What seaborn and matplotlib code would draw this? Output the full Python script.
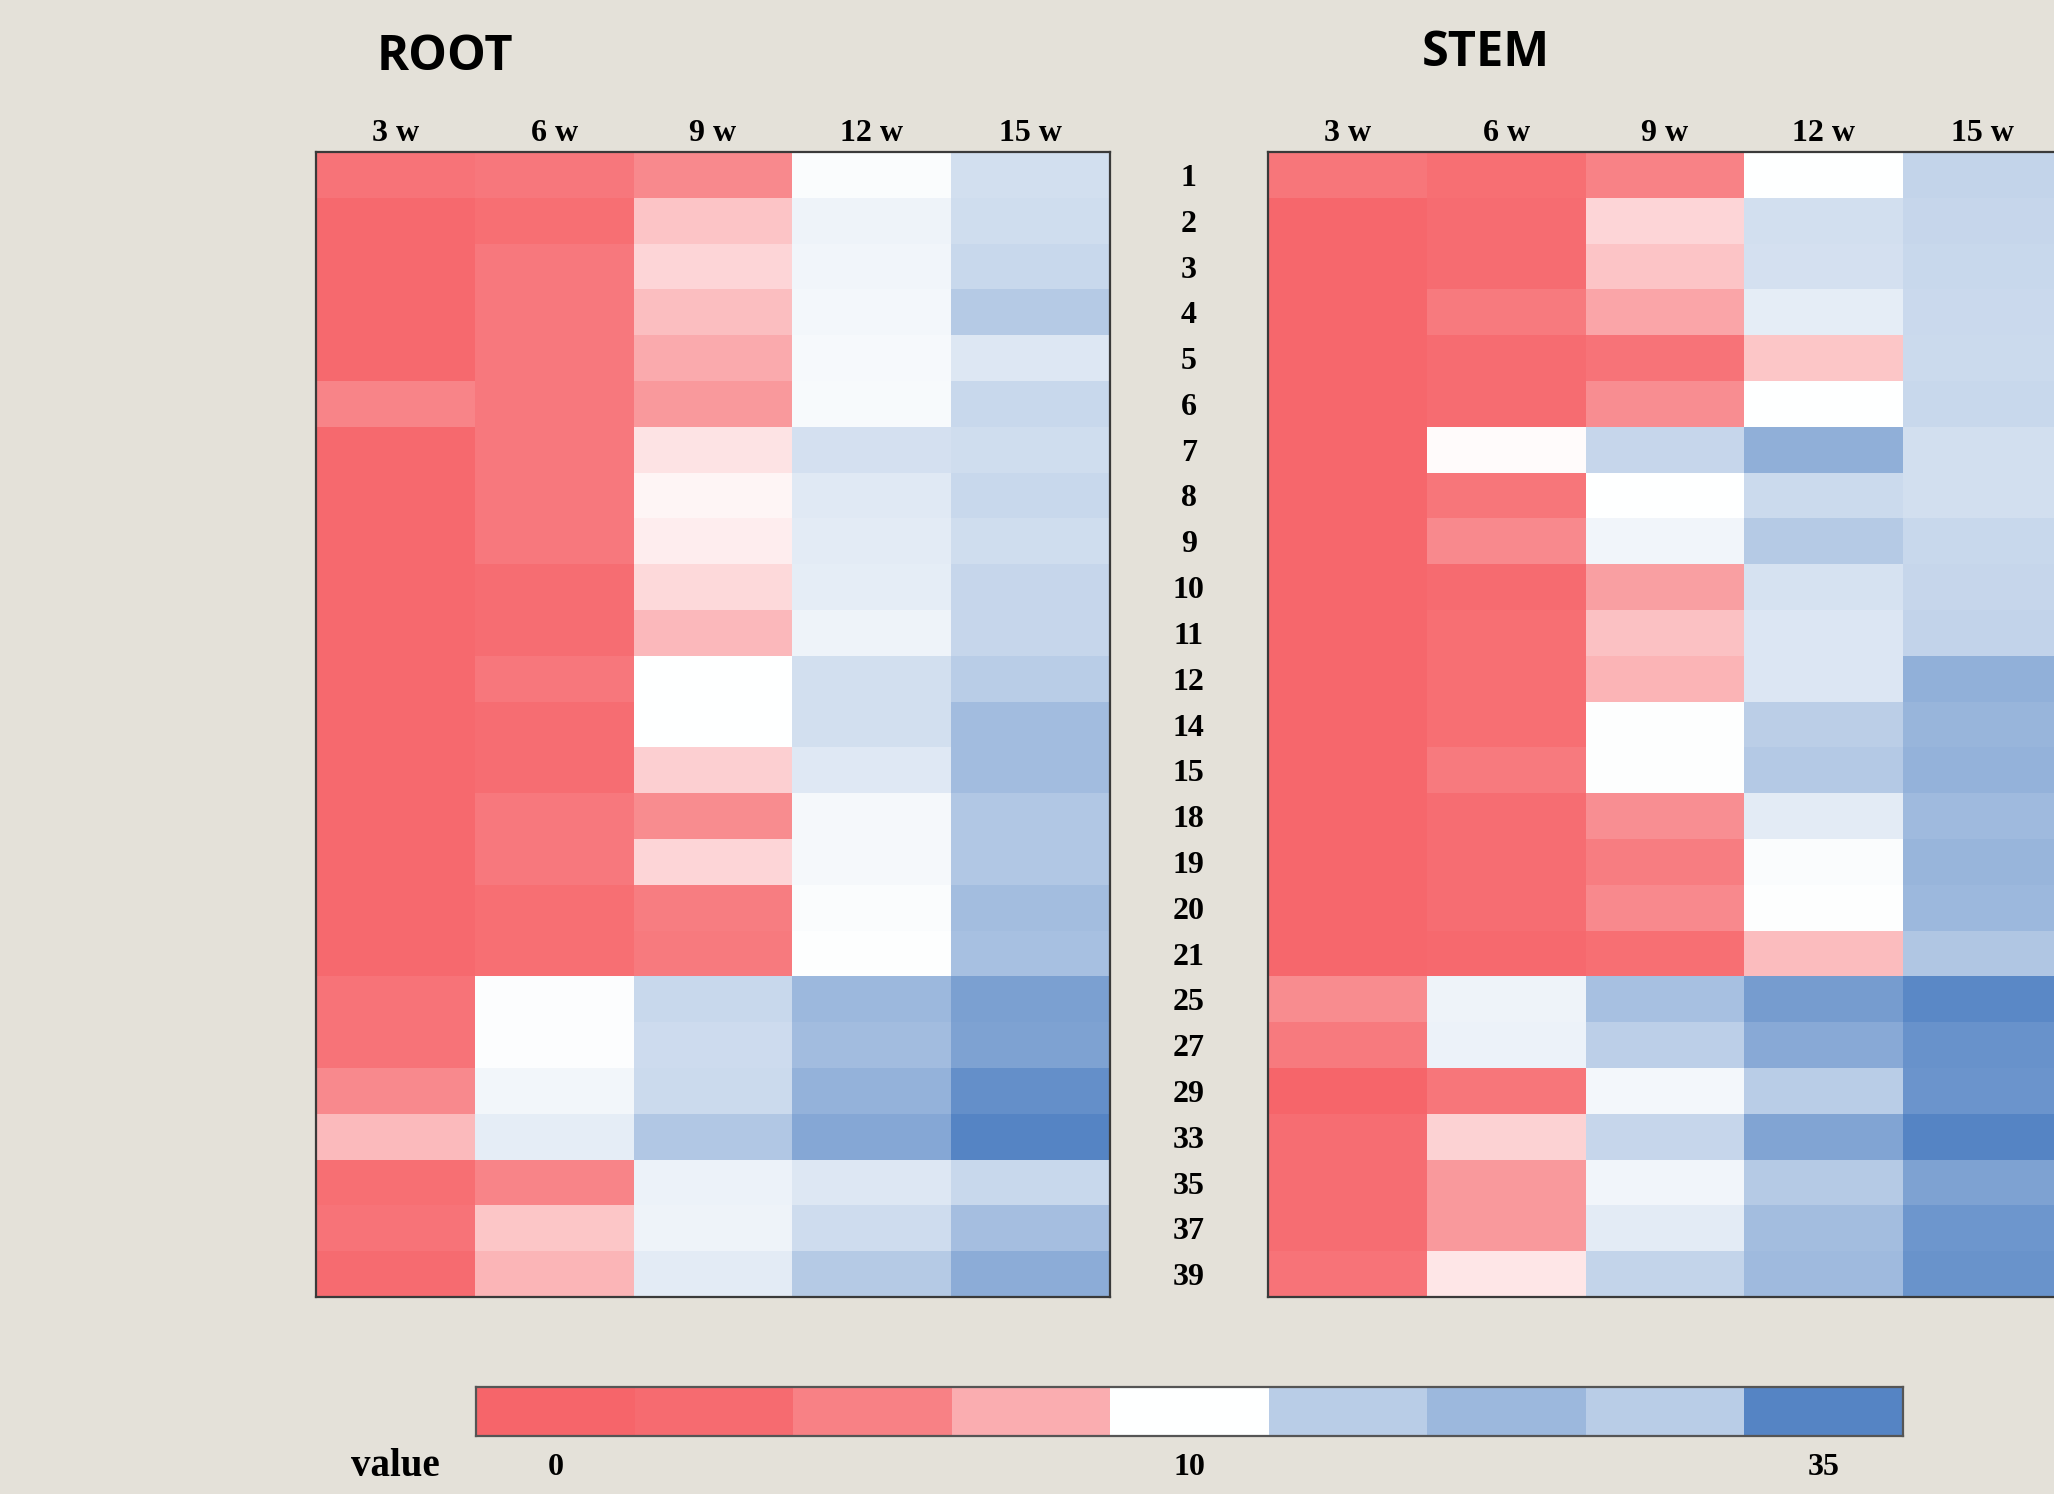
import numpy as np
import pandas as pd
import matplotlib.pyplot as plt
import seaborn as sns
from matplotlib.colors import LinearSegmentedColormap, TwoSlopeNorm

# row ids and time points
genes = [1, 2, 3, 4, 5, 6, 7, 8, 9, 10, 11, 12, 14, 15, 18, 19, 20, 21, 25, 27, 29, 33, 35, 37, 39]
weeks = ["3 w", "6 w", "9 w", "12 w", "15 w"]

# ROOT values
root_3w = [1.0, 0.3, 0.3, 0.3, 0.3, 2.1, 0.3, 0.3, 0.3, 0.3, 0.3, 0.3, 0.3, 0.3, 0.3, 0.3, 0.3, 0.3,
           1.0, 1.0, 2.4, 5.5, 0.7, 1.0, 0.4]
root_6w = [1.2, 0.7, 1.3, 1.3, 1.3, 1.3, 1.3, 1.3, 1.3, 0.6, 0.6, 1.2, 0.6, 0.6, 1.3, 1.3, 0.7, 0.7,
           10.4, 10.5, 11.8, 13.6, 2.1, 6.3, 5.2]
root_9w = [2.4, 6.2, 7.3, 5.8, 4.5, 3.4, 8.2, 9.3, 8.9, 7.5, 5.4, 10.0, 10.0, 6.9, 2.5, 7.3, 1.6, 1.4,
           17.8, 17.2, 17.3, 21.1, 12.6, 12.4, 14.0]
root_12w = [10.6, 12.4, 12.1, 11.6, 11.3, 11.0, 16.1, 14.4, 14.1, 13.7, 12.4, 16.3, 16.3, 14.5, 11.4, 11.4,
            10.7, 10.3, 23.9, 23.2, 25.1, 27.3, 14.8, 17.0, 20.4]
root_15w = [16.3, 16.8, 17.7, 20.4, 14.8, 17.7, 16.7, 17.7, 16.8, 18.2, 18.2, 19.9, 23.1, 23.1, 21.1, 21.1,
            22.9, 22.4, 28.6, 28.2, 32.0, 34.1, 17.8, 22.8, 26.3]

# STEM values
stem_3w = [1.1, 0.2, 0.2, 0.2, 0.2, 0.2, 0.2, 0.2, 0.2, 0.2, 0.2, 0.2, 0.2, 0.2, 0.2, 0.2, 0.2, 0.2,
           2.5, 1.4, 0.0, 0.6, 0.6, 0.6, 1.0]
stem_6w = [0.7, 0.5, 0.5, 1.4, 0.5, 0.5, 9.7, 1.1, 2.4, 0.4, 0.7, 0.7, 0.7, 1.4, 0.6, 0.6, 0.6, 0.3,
           12.4, 12.6, 1.1, 7.1, 3.4, 3.4, 8.4]
stem_9w = [1.9, 7.3, 6.2, 4.2, 1.0, 2.6, 18.1, 10.1, 12.0, 3.8, 6.0, 5.1, 10.2, 10.3, 2.7, 1.6, 2.4, 0.7,
           22.4, 19.5, 11.6, 18.2, 12.1, 14.1, 18.5]
stem_12w = [10.0, 16.4, 16.1, 13.6, 6.3, 10.0, 25.8, 17.4, 20.5, 15.8, 15.0, 15.0, 19.7, 20.7, 14.1, 10.7,
            10.3, 5.7, 29.5, 26.9, 19.8, 27.8, 20.4, 22.9, 23.5]
stem_15w = [18.4, 18.1, 17.8, 17.5, 17.4, 17.7, 16.3, 16.4, 17.8, 18.2, 18.7, 25.5, 24.6, 25.2, 23.5, 24.6,
            23.9, 21.2, 33.4, 31.4, 30.9, 34.1, 28.3, 30.7, 31.2]

# legend blocks
cbar_values = [0.0, 0.4, 1.8, 4.7, 10.0, 19.8, 24.0, 19.8, 34.1]
cbar_ticks = ["0", "10", "35"]

root_df = pd.DataFrame(dict(zip(weeks, [root_3w, root_6w, root_9w, root_12w, root_15w])), index=genes)
stem_df = pd.DataFrame(dict(zip(weeks, [stem_3w, stem_6w, stem_9w, stem_12w, stem_15w])), index=genes)

bg = "#E4E1D9"
cmap = LinearSegmentedColormap.from_list("rwb", ["#F6656A", "#FFFFFF", "#4F80C2"])
norm = TwoSlopeNorm(vmin=0, vcenter=10, vmax=35)

W, H = 2054, 1494
fig = plt.figure(figsize=(W / 100, H / 100), dpi=100, facecolor=bg)

def px_axes(x0, y0, x1, y1):
    return fig.add_axes([x0 / W, 1 - y1 / H, (x1 - x0) / W, (y1 - y0) / H])

serif = dict(family="Liberation Serif", weight="bold", size=23)

ax_root = px_axes(316, 152, 1110, 1297)
ax_stem = px_axes(1268, 152, 2062, 1297)

for ax, df in [(ax_root, root_df), (ax_stem, stem_df)]:
    sns.heatmap(df, ax=ax, cmap=cmap, norm=norm, cbar=False, xticklabels=True, yticklabels=True)
    ax.xaxis.tick_top()
    ax.tick_params(axis="x", length=0, pad=3)
    ax.tick_params(axis="y", length=0)
    for lab in ax.get_xticklabels():
        lab.set_fontproperties(serif)
        lab.set_rotation(0)
    for sp in ax.spines.values():
        sp.set_visible(True)
        sp.set_color("#3a3a3a")
        sp.set_linewidth(1.6)
    ax.set_xlabel("")

ax_root.set_yticklabels([])
ax_stem.tick_params(axis="y", pad=57)
for lab in ax_stem.get_yticklabels():
    lab.set_fontproperties(serif)
    lab.set_rotation(0)
    lab.set_horizontalalignment("center")
    lab.set_verticalalignment("center_baseline")

fig.text(445 / W, 1 - 57 / H, "ROOT", family="Open Sans", weight="bold", size=35, ha="center", va="center")
fig.text(1486 / W, 1 - 54 / H, "STEM", family="Open Sans", weight="bold", size=35, ha="center", va="center")

# legend bar
ax_cb = px_axes(476, 1387, 1903, 1436)
sns.heatmap(pd.DataFrame([cbar_values]), ax=ax_cb, cmap=cmap, norm=norm, cbar=False,
            xticklabels=False, yticklabels=False)
ax_cb.set_xticks([0.5, 4.5, 8.5])
ax_cb.set_xticklabels(cbar_ticks)
ax_cb.tick_params(axis="x", length=0, pad=12)
for lab in ax_cb.get_xticklabels():
    lab.set_fontproperties(serif)
for sp in ax_cb.spines.values():
    sp.set_visible(True)
    sp.set_color("#555555")
    sp.set_linewidth(1.6)
ax_cb.set_xlabel("")
ax_cb.set_ylabel("")

fig.text(395 / W, 1 - 1466 / H, "value", family="Liberation Serif", weight="bold", size=28,
         ha="center", va="center")

fig.savefig("out.png", dpi=100, facecolor=bg)
